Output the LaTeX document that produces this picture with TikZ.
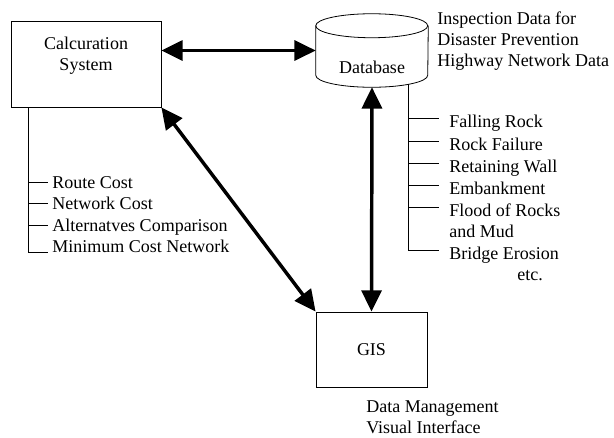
\documentclass[tikz,border=0pt]{standalone}
\usepackage{fontspec}
\setmainfont{Liberation Serif}
\usetikzlibrary{arrows.meta}
\tikzset{
    box/.style={draw, rectangle, line width=0.6pt, align=center},
    store/.style={rectangle, inner sep=0pt},
    link/.style={{Triangle[length=16pt,width=15pt]}-{Triangle[length=16pt,width=15pt]}, line width=2.6pt},
    tie/.style={line width=0.6pt},
    item/.style={anchor=west, inner ysep=0pt, text depth=0pt},
    note/.style={align=left, anchor=north west, inner sep=0pt}
}

\begin{document}
\begin{tikzpicture}[x=0.75pt, y=-0.75pt, font=\fontsize{13.5}{15.75}\selectfont]
    \useasboundingbox (0,0) rectangle (614,437);

    \node[box, minimum width=112.5pt, minimum height=64.5pt] (calc) at (86,64) {};
    \node[align=center] (calctext) at (86,56) {Calcuration\\System};
    \node[store, minimum width=84pt, minimum height=54.75pt] (db) at (372,50.5) {};
    \node (dbtext) at (372,67) {Database};
    \node[box, minimum width=83.25pt, minimum height=56.25pt] (gis) at (371.5,349.5) {GIS};

    % database drum
    \draw[tie] ([yshift=-9pt]db.north west) arc[start angle=180, end angle=-180, x radius=42pt, y radius=9pt];
    \draw[tie] ([yshift=-9pt]db.north west) -- ([yshift=9pt]db.south west)
        arc[start angle=180, end angle=360, x radius=42pt, y radius=9pt] -- ([yshift=-9pt]db.north east);

    \node[note] (dbnote) at (437,12) {Inspection Data for\\Disaster Prevention\\Highway Network Data};
    \node[note] (gisnote) at (366,400) {Data Management\\Visual Interface};

    \draw[link] (db.west -| calc.east) -- (db.west);
    \draw[link] (calc.south east) -- (gis.north west);
    \draw[link] (gis.north) -- (db.south);

    % cost items
    \coordinate (lbar) at (28,107);
    \node[item, text height=9.75pt, inner xsep=3pt] (route) at (48,182) {Route Cost};
    \node[item, text height=9.75pt, inner xsep=3pt] (netcost) at (48,203) {Network Cost};
    \node[item, text height=9.75pt, inner xsep=3pt] (altcomp) at (48,225) {Alternatves Comparison};
    \node[item, text height=9.75pt, inner xsep=3pt] (mincost) at (48,246) {Minimum Cost Network};
    \draw[tie] (lbar) |- (mincost.base west);
    \foreach \n in {route, netcost, altcomp}
        \draw[tie] (lbar |- \n.west) -- (\n.west);

    % disaster items
    \coordinate (rbar) at (408,84);
    \node[item, text height=13.5pt, inner xsep=7.5pt] (falling) at (439,118) {Falling Rock};
    \node[item, text height=13.5pt, inner xsep=7.5pt] (rockfail) at (439,141) {Rock Failure};
    \node[item, text height=13.5pt, inner xsep=7.5pt] (wall) at (439,163) {Retaining Wall};
    \node[item, text height=13.5pt, inner xsep=7.5pt] (embank) at (439,185) {Embankment};
    \node[item, text height=13.5pt, inner xsep=7.5pt] (flood) at (439,207) {Flood of Rocks};
    \node[item, text height=13.5pt, inner sep=0pt] (mud) at (449,228) {and Mud};
    \node[item, text height=13.5pt, inner xsep=7.5pt] (bridge) at (439,250) {Bridge Erosion};
    \node[anchor=base] (etc) at (530,280) {etc.};
    \draw[tie] (rbar) |- (bridge.west);
    \foreach \n in {falling, rockfail, wall, embank, flood}
        \draw[tie] (rbar |- \n.west) -- (\n.west);
\end{tikzpicture}
\end{document}
